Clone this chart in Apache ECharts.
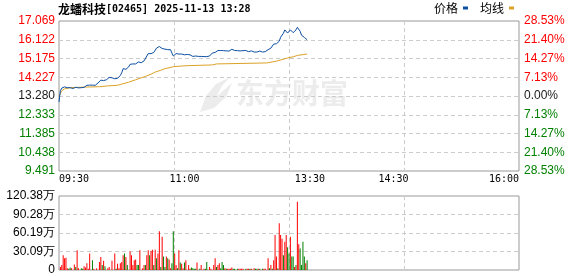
<!DOCTYPE html>
<html><head><meta charset="utf-8">
<script src="https://cdn.jsdelivr.net/npm/echarts@6/dist/echarts.min.js"></script>
<style>html,body{margin:0;padding:0;background:#fff}#c{width:578px;height:276px}</style>
</head><body><div id="c"></div>
<script>
// ---- data ----
const titleName = '龙蟠科技';
const titleRest = '[02465] 2025-11-13 13:28';
const preClose = 13.280;
const priceMin = 9.491;
const priceMax = 17.069;
const priceTicks = ['9.491','10.438','11.385','12.333','13.280','14.227','15.175','16.122','17.069'];
const pctTicks = ['28.53%','21.40%','14.27%','7.13%','0.00%','7.13%','14.27%','21.40%','28.53%'];
const volMax = 120.38;
const volTicks = ['0','30.09万','60.19万','90.28万','120.38万'];
const sessionMinutes = 330;
const timeLabelMin = [0, 90, 180, 240, 330];
const timeLabelText = ['09:30', '11:00', '13:30', '14:30', '16:00'];

// price per minute from 09:30
const price = [
12.98,13.55,13.68,13.74,13.74,13.72,13.70,13.66,13.70,13.69,
13.66,13.70,13.72,13.70,13.69,13.66,13.70,13.72,13.72,13.78,
13.82,13.83,13.83,13.83,13.83,13.82,13.82,13.86,13.94,14.00,
14.08,14.02,14.06,14.12,14.10,14.15,14.22,14.25,14.20,14.18,
14.15,14.16,14.17,14.22,14.32,14.45,14.66,14.60,14.63,14.58,
14.75,14.88,14.95,14.90,14.97,14.90,14.95,15.00,15.00,14.96,
15.03,15.05,15.15,15.30,15.42,15.38,15.42,15.50,15.48,15.55,
15.70,15.65,15.78,15.70,15.68,15.60,15.65,15.58,15.62,15.68,
15.62,15.45,15.30,15.38,15.42,15.45,15.40,15.45,15.40,15.42,
15.36,15.35,15.38,15.33,15.36,15.32,15.28,15.33,15.30,15.30,
15.28,15.30,15.28,15.30,15.27,15.28,15.27,15.27,15.30,15.38,
15.45,15.42,15.48,15.55,15.58,15.55,15.58,15.55,15.57,15.55,
15.56,15.58,15.55,15.57,15.64,15.62,15.58,15.55,15.57,15.55,
15.56,15.55,15.57,15.55,15.58,15.55,15.52,15.55,15.56,15.52,
15.50,15.53,15.50,15.52,15.55,15.52,15.50,15.48,15.52,15.50,
15.62,15.60,15.70,15.75,15.90,15.95,15.92,16.00,16.05,16.25,
16.28,16.45,16.62,16.55,16.46,16.55,16.62,16.55,16.48,16.52,
16.62,16.75,16.85,16.55,16.35,16.32,16.24,16.20,16.12
];

// average line (minute, value)
const avgMin = [0,1,2,4,8,19,29,35,42,45,50,55,62,66,69,73,76,82,91,110,113,149,153,156,160,164,168,171,175,178];
const avgVal = [13.26,13.40,13.55,13.64,13.70,13.73,13.75,13.79,13.82,13.88,13.98,14.10,14.27,14.38,14.49,14.58,14.66,14.76,14.81,14.85,14.90,14.95,15.00,15.04,15.12,15.20,15.26,15.33,15.37,15.40];

// volume bars (minute, 万 shares, direction 1 up / -1 down)
const volMin = [1,2,3,4,5,6,7,8,9,11,12,13,14,16,17,18,19,20,21,22,24,25,27,29,30,31,32,33,35,36,38,40,41,42,43,44,45,46,47,48,49,51,52,53,54,55,56,57,58,60,61,62,63,64,65,66,67,68,69,70,71,72,73,74,75,76,77,78,79,80,81,82,83,84,85,86,87,88,89,90,91,93,94,95,96,97,98,99,101,102,104,105,106,108,109,111,112,113,114,115,116,117,118,119,120,121,122,123,124,125,126,128,129,130,131,132,134,135,136,137,138,140,141,142,143,144,146,147,148,150,151,152,153,154,155,156,157,158,159,160,161,162,163,164,165,166,167,168,169,170,171,172,173,174,175,176,177,178];
const volVal = [5,8,24,19,20,3,2,4,3,9,5,32,3,3,2,6,4,11,2,27,16,2,3,13,21,8,15,6,3,5,15,27,2,10,3,11,13,24,27,21,8,30,24,8,16,17,8,8,32,3,8,8,24,32,24,31,33,8,33,19,27,63,5,54,22,5,22,19,17,3,11,63,27,8,3,32,12,10,3,12,16,8,2,4,3,2,2,12,2,8,2,2,13,5,2,8,19,5,8,11,3,13,8,3,2,2,2,2,4,2,2,2,2,2,2,2,2,2,2,2,2,3,2,2,2,2,2,2,2,19,3,8,2,16,57,22,3,76,57,51,24,46,57,37,27,54,22,22,5,8,111,42,35,8,46,22,11,16];
const volDir = [1,1,1,1,1,1,-1,-1,1,1,-1,1,1,-1,-1,1,1,1,1,1,-1,1,1,1,1,-1,1,-1,1,1,1,1,-1,1,1,1,1,1,-1,1,-1,1,1,1,1,1,-1,-1,1,1,1,-1,1,1,-1,1,1,-1,1,-1,1,1,-1,1,-1,-1,1,-1,1,1,-1,-1,1,1,-1,1,-1,1,1,-1,1,1,1,-1,-1,-1,-1,1,-1,1,1,-1,-1,1,1,1,1,-1,1,1,-1,-1,-1,1,-1,1,1,1,1,-1,-1,-1,1,1,1,1,-1,1,1,-1,1,1,-1,-1,1,-1,-1,1,1,1,-1,1,-1,1,1,1,-1,1,1,1,-1,1,1,-1,-1,1,-1,-1,1,-1,1,1,-1,-1,-1,-1,1,-1];

// ---- chart ----
const RED = '#ff0000', GREEN = '#008000', DARK = '#1a1a1a';
const GRID_LINE = {show: true, showMinLine: false, showMaxLine: false, lineStyle: {type: [4, 3], color: '#cccccc', width: 1}};
const chart = echarts.init(document.getElementById('c'), null, {renderer: 'canvas'});
const option = {
  animation: false,
  backgroundColor: '#ffffff',
  title: {
    text: '{a|' + titleName + '}{b|' + titleRest + '}',
    left: 58, top: 3, padding: 0,
    textStyle: {rich: {
      a: {fontSize: 12, fontFamily: 'Noto Sans CJK SC', color: '#000'},
      b: {fontSize: 10, fontFamily: 'DejaVu Sans Mono', color: '#000'}
    }}
  },
  legend: {
    right: 64, top: 2, padding: 0, align: 'right', icon: 'rect',
    itemWidth: 5, itemHeight: 3, itemGap: 12,
    textStyle: {fontSize: 12, fontFamily: 'Noto Sans CJK SC', color: '#000'},
    data: ['价格', '均线']
  },
  graphic: [
    {type: 'polygon', z: 0, silent: true,
     shape: {points: [[200,112],[206,96],[216,84],[230,77],[222,86],[216,97],[232,83],[226,97],[214,108]]},
     style: {fill: '#ececec'}},
    {type: 'text', left: 236, top: 79, z: 0, silent: true,
     style: {text: '东方财富', fontSize: 28, fontWeight: 'bold', fontFamily: 'Noto Sans CJK SC', fill: '#ececec'}}
  ],
  grid: [
    {left: 59, right: 59, top: 21, height: 150, show: true, borderColor: '#999', borderWidth: 1, backgroundColor: 'transparent'},
    {left: 59, right: 59, top: 196, height: 74, show: true, borderColor: '#999', borderWidth: 1, backgroundColor: 'transparent'}
  ],
  xAxis: [
    {gridIndex: 0, type: 'value', min: 0, max: sessionMinutes, interval: sessionMinutes / 4,
     axisLine: {show: false}, axisTick: {show: false}, axisLabel: {show: false}, splitLine: GRID_LINE},
    {gridIndex: 0, type: 'value', min: 0, max: sessionMinutes, interval: 30, position: 'bottom',
     axisLine: {show: false}, axisTick: {show: false}, splitLine: {show: false},
     axisLabel: {show: true, margin: 3, fontSize: 10, fontFamily: 'DejaVu Sans Mono', color: '#000',
       alignMinLabel: 'left', alignMaxLabel: 'right',
       formatter: v => { const k = timeLabelMin.indexOf(Math.round(v)); return k >= 0 ? timeLabelText[k] : ''; }}},
    {gridIndex: 1, type: 'value', min: 0, max: sessionMinutes, interval: sessionMinutes / 4,
     axisLine: {show: false}, axisTick: {show: false}, axisLabel: {show: false}, splitLine: GRID_LINE}
  ],
  yAxis: [
    {gridIndex: 0, type: 'value', min: priceMin, max: priceMax, show: false, position: 'left'},
    {gridIndex: 0, type: 'value', min: 0, max: 8, interval: 1, position: 'left',
     axisLine: {show: false}, axisTick: {show: false}, splitLine: GRID_LINE,
     axisLabel: {margin: 4, fontSize: 12, fontFamily: 'Liberation Sans, Arial',
       formatter: v => priceTicks[Math.round(v)],
       color: v => (Math.round(v) > 4 ? RED : Math.round(v) < 4 ? GREEN : DARK)}},
    {gridIndex: 0, type: 'value', min: 0, max: 8, interval: 1, position: 'right',
     axisLine: {show: false}, axisTick: {show: false}, splitLine: {show: false},
     axisLabel: {margin: 5, fontSize: 12, fontFamily: 'Liberation Sans, Arial',
       formatter: v => pctTicks[Math.round(v)],
       color: v => (Math.round(v) > 4 ? RED : Math.round(v) < 4 ? GREEN : DARK)}},
    {gridIndex: 1, type: 'value', min: 0, max: volMax, interval: volMax / 4, position: 'left',
     axisLine: {show: false}, axisTick: {show: false}, splitLine: GRID_LINE,
     axisLabel: {margin: 4, fontSize: 12, fontFamily: 'Liberation Sans, Arial', color: '#000',
       formatter: v => volTicks[Math.round(v / (volMax / 4))]}}
  ],
  series: [
    {name: '价格', type: 'line', xAxisIndex: 0, yAxisIndex: 0, showSymbol: false, symbol: 'none',
     data: price.map((p, i) => [i, p]), color: '#0b4ea2', lineStyle: {width: 1, color: '#0b4ea2'}, z: 4},
    {name: '均线', type: 'line', xAxisIndex: 0, yAxisIndex: 0, showSymbol: false, symbol: 'none',
     data: avgMin.map((m, i) => [m, avgVal[i]]), color: '#dca228', lineStyle: {width: 1, color: '#dca228'}, z: 3},
    {name: '成交量', type: 'bar', xAxisIndex: 2, yAxisIndex: 3, barWidth: 1,
     data: volMin.map((m, i) => [m, volVal[i], volDir[i]]),
     encode: {x: 0, y: 1},
     itemStyle: {color: p => (p.data[2] > 0 ? RED : GREEN)}}
  ]
};
chart.setOption(option);
</script>
</body></html>
